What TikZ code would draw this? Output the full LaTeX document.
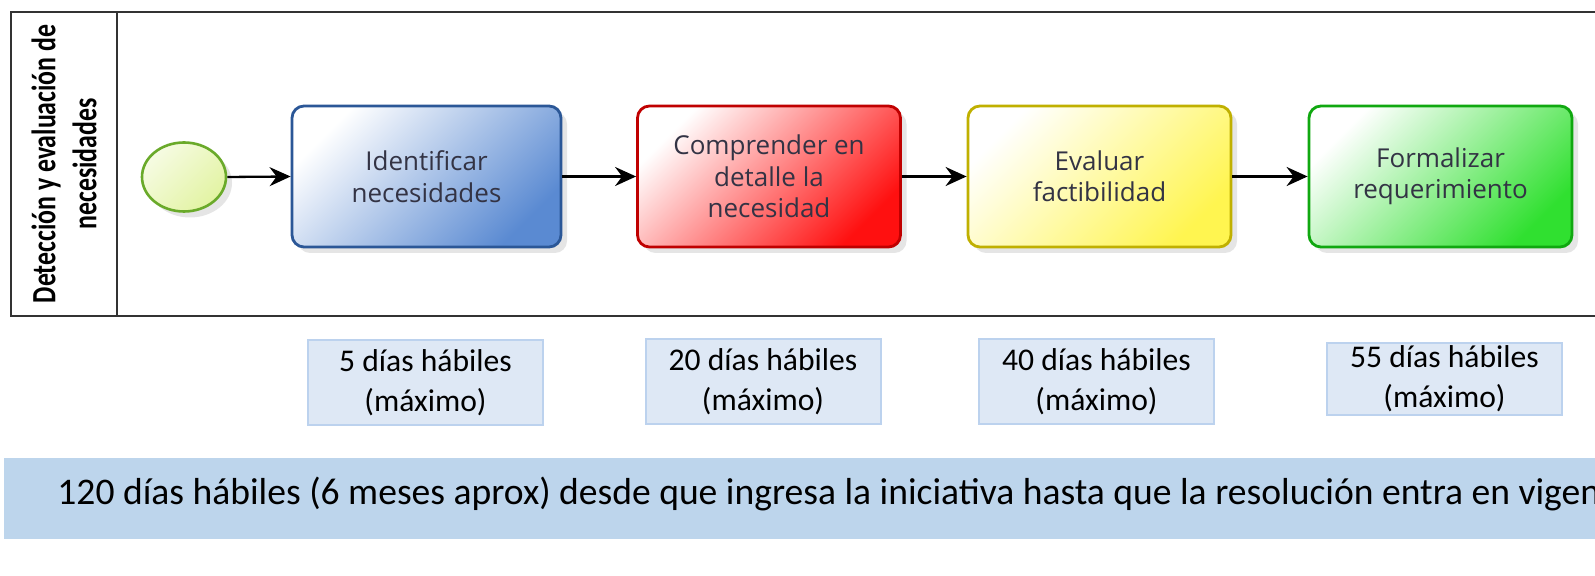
\documentclass[tikz,border=0pt]{standalone}
\usepackage{fontspec}
\setmainfont{Carlito}
\newfontfamily\boxfont{Open Sans}
\newfontfamily\lanefont[FakeStretch=0.76]{Carlito}
\usetikzlibrary{shapes.geometric,arrows.meta,shadows}
\definecolor{poolline}{HTML}{333333}
\definecolor{bAline}{HTML}{2B5797}
\definecolor{bAfill}{HTML}{5A8AD2}
\definecolor{bBline}{HTML}{C00000}
\definecolor{bBfill}{HTML}{FF1010}
\definecolor{bCline}{HTML}{C0B000}
\definecolor{bCfill}{HTML}{FFF550}
\definecolor{bDline}{HTML}{10A810}
\definecolor{bDfill}{HTML}{30E030}
\definecolor{evline}{HTML}{6AAA2A}
\definecolor{evfill}{HTML}{E2F3A2}
\definecolor{timefill}{HTML}{DEE8F5}
\definecolor{timeline}{HTML}{BCD2EE}
\definecolor{bandfill}{HTML}{BDD5EC}
\definecolor{labeltext}{HTML}{333344}
\tikzset{
  proc/.style={rounded corners=6pt, line width=1.4pt, minimum width=131.5pt, minimum height=70.5pt,
    align=center, inner sep=0pt, font=\boxfont\fontsize{13}{15.7}\selectfont, text=labeltext,
    drop shadow={shadow xshift=3pt, shadow yshift=-3pt, opacity=0.2}},
  procfill/.style 2 args={proc, draw=#1, top color=white, middle color=#2!35, bottom color=#2, shading angle=45},
  timebox/.style={fill=timefill, draw=timeline, line width=1pt, minimum width=117.5pt, minimum height=42.5pt,
    align=center, inner sep=0pt, font=\fontsize{15.8}{20}\selectfont},
  flow/.style={-{Stealth[length=10.5pt,width=9.5pt,inset=3.5pt]}, line width=1.15pt, black},
  startev/.style={ellipse, draw=evline, line width=1.3pt, minimum width=42pt, minimum height=34.5pt,
    inner sep=0pt, top color=evfill!30, bottom color=evfill, shading angle=45,
    drop shadow={shadow xshift=3pt, shadow yshift=-3pt, opacity=0.2}},
  lanelabel/.style={rotate=90, align=center, font=\lanefont\bfseries\fontsize{17}{20.5}\selectfont}
}
\begin{document}
\begin{tikzpicture}[x=0.5pt,y=-0.5pt]
\useasboundingbox (0,0) rectangle (1595,576);
\clip (0,0) rectangle (1595,576);
\fill[white] (0,0) rectangle (1595,576);
% pool
\draw[poolline, line width=1pt] (1600,12) -- (11,12) -- (11,316) -- (1600,316);
\draw[poolline, line width=1pt] (117,12) -- (117,316);
\node[lanelabel] (lane) at (64,164) {Detección y evaluación de\\necesidades};
% start event
\node[startev] (start) at (184,177) {};
% tasks
\node[procfill={bAline}{bAfill}, minimum width=134.5pt] (t1) at (426.5,176.5) {Identificar\\necesidades};
\node[procfill={bBline}{bBfill}] (t2) at (769,176.5) {Comprender en\\detalle la\\necesidad};
\node[procfill={bCline}{bCfill}] (t3) at (1099.5,176.5) {Evaluar\\factibilidad};
\node[procfill={bDline}{bDfill}] (t4) at (1440.5,176.5) {Formalizar\\requerimiento};
\draw[flow] (start.east) -- (t1.west);
\draw[flow] (t1.east) -- (t2.west);
\draw[flow] (t2.east) -- (t3.west);
\draw[flow] (t3.east) -- (t4.west);
% time boxes
\node[timebox] (d1) at (425.5,382.5) {5 días hábiles\\(máximo)};
\node[timebox] (d2) at (763,382) {20 días hábiles\\(máximo)};
\node[timebox] (d3) at (1096.5,382) {40 días hábiles\\(máximo)};
\node[timebox, minimum height=36pt] (d4) at (1444.5,379) {55 días hábiles\\(máximo)};
% bottom band
\fill[bandfill] (4,458) rectangle (1600,539);
\node[anchor=base west, inner sep=0pt, font=\fontsize{18.8}{22}\selectfont] (total) at (57,505)
  {120 días hábiles (6 meses aprox) desde que ingresa la iniciativa hasta que la resolución entra en vigencia};
\end{tikzpicture}
\end{document}
